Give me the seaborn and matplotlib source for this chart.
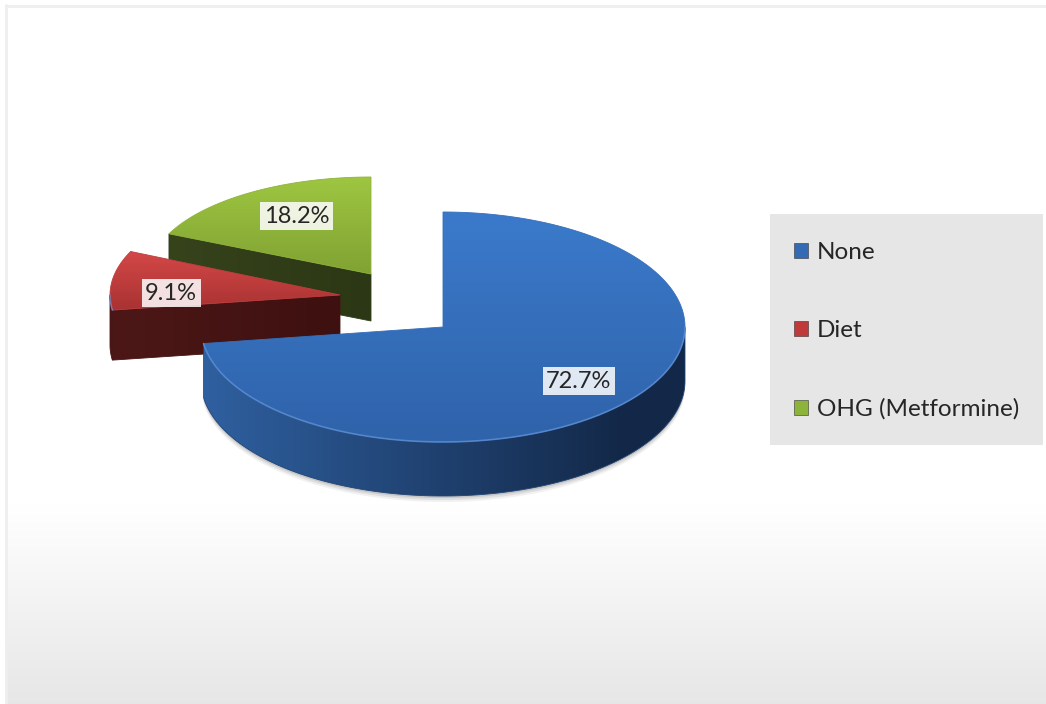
import numpy as np
import matplotlib
matplotlib.use("Agg")
import matplotlib.pyplot as plt
import seaborn as sns
from matplotlib.patches import Polygon, Patch, Rectangle
from matplotlib.colors import to_rgb

sns.set_theme(style="white")
plt.rcParams['font.family'] = ['Lato', 'DejaVu Sans']

# data
categories = ["None", "Diet", "OHG (Metformine)"]
shares = [72.7, 9.1, 18.2]

# look of each slice: top face gradient, side gradient, legend colour
top_colors = [("#3b7acb", "#2f63aa"), ("#d44848", "#a93232"), ("#9ec641", "#80a233")]
side_colors = [("#2f60a0", "#132848"), ("#4d1717", "#3e1010"), ("#36431b", "#2c3715")]
legend_colors = ["#3469b3", "#c03a3a", "#8db43a"]

# pseudo 3d layout (pixels): centre, radii, depth; slices 2 and 3 are pulled out
centres = [(443, 327), (340, 295), (371, 274)]
radii = [(242, 115), (230, 105), (222, 97)]
depths = [54, 50, 47]
label_nudge = [(4, 0), (-5, 9), (12, 1)]

W, H = 1046, 704
fig = plt.figure(figsize=(W / 100, H / 100), dpi=100)
ax = fig.add_axes([0, 0, 1, 1])
ax.axis("off")


def grad_fill(verts, c0, c1, horizontal=False, z=1, x_span=None):
    verts = np.asarray(verts)
    patch = Polygon(verts, closed=True, fc="none", ec="none", zorder=z)
    ax.add_patch(patch)
    x0, y0 = verts.min(axis=0)
    x1, y1 = verts.max(axis=0)
    a, b = np.array(to_rgb(c0)), np.array(to_rgb(c1))
    t = np.linspace(0, 1, 256)
    if horizontal:
        if x_span is not None:
            xs = np.linspace(x0, x1, 256)
            t = np.clip((xs - x_span[0]) / (x_span[1] - x_span[0]), 0, 1)
        img = (a[None, :] * (1 - t[:, None]) + b[None, :] * t[:, None])[None, :, :]
    else:
        img = (a[None, :] * (1 - t[:, None]) + b[None, :] * t[:, None])[:, None, :]
    im = ax.imshow(img, extent=(x0, x1, y1, y0), origin="upper", aspect="auto",
                   zorder=z, interpolation="bilinear")
    im.set_clip_path(patch)
    mid = (a + b) / 2
    ax.add_patch(Polygon(verts, closed=True, fc="none", ec=mid, lw=0.6, zorder=z + 0.01))


# background: faint frame and grey fade at the bottom
bg = np.linspace(1.0, 0.905, 200)
ax.imshow(np.repeat(bg[:, None, None], 3, axis=2), extent=(6, W, H, 505), origin="upper",
          aspect="auto", zorder=0, interpolation="bilinear")
ax.plot([6, W], [5.5, 5.5], color="#eeeeee", lw=2, zorder=0.5)
ax.plot([6, 6], [5, H], color="#eeeeee", lw=2, zorder=0.5)

total = sum(shares)
bounds = 90 - 360 * np.concatenate([[0], np.cumsum(shares)]) / total

# draw farthest slice first
order = [2, 1, 0]
for k, i in enumerate(order):
    z = 2 + k
    cx, cy = centres[i]
    rx, ry = radii[i]
    d = depths[i]
    a_hi, a_lo = bounds[i], bounds[i + 1]   # ccw span [a_lo, a_hi]
    t = np.radians(np.linspace(a_lo, a_hi, 300))
    ex = cx + rx * np.cos(t)
    ey = cy - ry * np.sin(t)

    # radial cut faces that face the viewer
    for ang, normal in [(a_lo, a_lo - 90), (a_hi, a_hi + 90)]:
        if np.sin(np.radians(normal)) < -0.05:
            ox = cx + rx * np.cos(np.radians(ang))
            oy = cy - ry * np.sin(np.radians(ang))
            quad = [(cx, cy), (ox, oy), (ox, oy + d), (cx, cy + d)]
            grad_fill(quad, *side_colors[i], horizontal=True, z=z)

    # outer wall, front half only
    front = np.sin(t) < 0
    if front.any():
        fx, fy = ex[front], ey[front]
        if i == 0:
            # soft shadow under the big slice
            for s, al in [(6, 0.08), (4, 0.12), (2, 0.18)]:
                ax.fill(np.concatenate([fx, fx[::-1]]),
                        np.concatenate([fy + d + s, fy[::-1]]),
                        color="#555555", alpha=al, lw=0, zorder=z - 0.5)
        wall = np.column_stack([np.concatenate([fx, fx[::-1]]),
                                np.concatenate([fy, fy[::-1] + d])])
        grad_fill(wall, *side_colors[i], horizontal=True, z=z + 0.1,
                  x_span=(cx - rx, cx + 0.75 * rx))

    # top face
    top = np.column_stack([np.concatenate([[cx], ex]), np.concatenate([[cy], ey])])
    grad_fill(top, *top_colors[i], z=z + 0.2)
    if front.any():
        ax.plot(ex[front], ey[front], color="#6a9be0", lw=1.2, alpha=0.6, zorder=z + 0.3)

    # percent label
    mid = np.radians((a_lo + a_hi) / 2)
    lx = cx + 0.72 * rx * np.cos(mid) + label_nudge[i][0]
    ly = cy - 0.72 * ry * np.sin(mid) + label_nudge[i][1]
    ax.text(lx, ly, f"{shares[i]:.1f}%", fontsize=17, ha="center", va="center", zorder=10,
            bbox=dict(boxstyle="square,pad=0.15", fc="white", ec="none", alpha=0.85))

# legend on a grey panel
fig.add_artist(Rectangle((770 / W, 1 - 445 / H), 273 / W, 231 / H, transform=fig.transFigure,
                         fc="#e6e6e6", ec="none", zorder=1))
handles = [Patch(fc=c, ec="#333333", lw=0.4) for c in legend_colors]
fig.legend(handles, categories, loc="center left", bbox_to_anchor=(794 / W, 1 - 331 / H),
           frameon=False, fontsize=17.5, borderpad=0, borderaxespad=0,
           handlelength=0.58, handleheight=0.58, handletextpad=0.35, labelspacing=2.35)

ax.set_xlim(0, W)
ax.set_ylim(H, 0)
fig.savefig("out.png", dpi=100)
